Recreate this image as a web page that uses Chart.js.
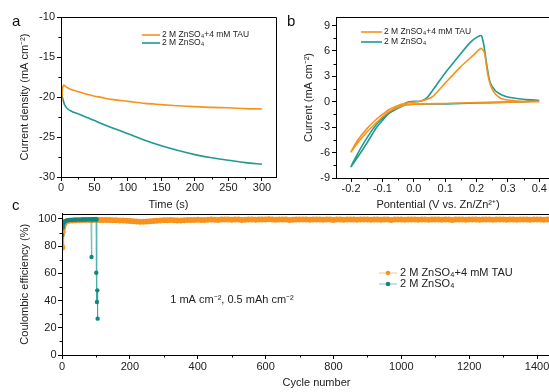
<!DOCTYPE html>
<html>
<head>
<meta charset="utf-8">
<script src="https://cdn.jsdelivr.net/npm/chart.js@4.4.1/dist/chart.umd.min.js"></script>
<style>
html, body { margin: 0; padding: 0; background: #fff; width: 549px; height: 392px; overflow: hidden; position: relative; }
canvas { position: absolute; }
.lab { position: absolute; font: 15px "Liberation Sans", Arial, sans-serif; color: #111; line-height: 1; }
</style>
</head>
<body>
<canvas id="ca" width="290" height="215" style="left:0;top:0"></canvas>
<canvas id="cb" width="300" height="215" style="left:285px;top:0"></canvas>
<canvas id="cc" width="600" height="189" style="left:0;top:203px"></canvas>
<div class="lab" style="left:12px;top:13px">a</div>
<div class="lab" style="left:287px;top:13px">b</div>
<div class="lab" style="left:12px;top:197px">c</div>
<script>
// panel a: chronoamperometry
const timeA = [0, 1, 2, 3, 4, 5, 7, 10, 15, 20, 30, 40, 50, 60, 75, 100, 125, 150, 175, 200, 225, 250, 275, 300];
const tauA  = [-21.2, -20.3, -19.2, -18.7, -18.5, -18.55, -18.7, -18.85, -19.05, -19.2, -19.45, -19.7, -19.9, -20.05, -20.3, -20.55, -20.8, -20.95, -21.1, -21.2, -21.3, -21.35, -21.45, -21.5];
const znA   = [-19.2, -19.6, -20.0, -20.3, -20.6, -20.9, -21.2, -21.5, -21.75, -21.95, -22.25, -22.6, -22.95, -23.3, -23.8, -24.6, -25.4, -26.1, -26.7, -27.2, -27.6, -27.9, -28.2, -28.4];
const xTicksA = [0, 50, 100, 150, 200, 250, 300];
const yTicksA = [-30, -25, -20, -15, -10];

// panel b: CV loops (start 0.4 V, scan down, back up)
const potTau = [0.40, 0.30, 0.20, 0.10, 0.00, -0.03, -0.06, -0.08, -0.10, -0.12, -0.15, -0.18, -0.20, -0.18, -0.15, -0.12, -0.10, -0.08, -0.06, -0.04, -0.02, 0.00, 0.03, 0.06, 0.10, 0.15, 0.19, 0.21, 0.215, 0.225, 0.235, 0.245, 0.26, 0.28, 0.32, 0.36, 0.40];
const curTau = [0.0, -0.05, -0.1, -0.2, -0.3, -0.4, -0.8, -1.2, -1.8, -2.5, -3.6, -4.9, -5.9, -4.6, -3.2, -2.1, -1.5, -0.95, -0.6, -0.3, -0.15, -0.05, 0.15, 0.6, 2.2, 4.15, 5.5, 6.2, 6.3, 5.8, 3.4, 1.9, 0.9, 0.35, 0.12, 0.05, 0.05];
const potZn = [0.40, 0.35, 0.30, 0.20, 0.10, 0.00, -0.03, -0.06, -0.08, -0.10, -0.12, -0.15, -0.18, -0.20, -0.18, -0.15, -0.12, -0.10, -0.08, -0.06, -0.04, -0.02, 0.00, 0.02, 0.04, 0.065, 0.10, 0.15, 0.18, 0.20, 0.215, 0.223, 0.234, 0.244, 0.26, 0.281, 0.307, 0.35, 0.40];
const curZn = [0.15, 0.0, -0.05, -0.15, -0.25, -0.3, -0.4, -0.95, -1.4, -2.2, -3.1, -4.9, -6.6, -7.65, -6.2, -4.3, -2.7, -1.9, -1.25, -0.85, -0.45, -0.05, 0.05, 0.05, 0.4, 1.6, 3.4, 5.7, 7.0, 7.6, 7.8, 6.7, 4.0, 2.2, 1.3, 0.8, 0.5, 0.3, 0.15];
const xTicksB = [-0.2, -0.1, 0.0, 0.1, 0.2, 0.3, 0.4];
const yTicksB = [-9, -6, -3, 0, 3, 6, 9];

// panel c: coulombic efficiency
const cycTau = [1, 2, 3, 4, 5, 7,
  10, 20, 30, 40, 50, 60, 70, 80, 90, 100, 110, 120, 130, 140, 150, 160, 170, 180, 190, 200,
  210, 220, 230, 240, 250, 260, 270, 280, 290, 300, 310, 320, 330, 340, 350, 360, 370, 380, 390, 400,
  410, 420, 430, 440, 450, 460, 470, 480, 490, 500, 510, 520, 530, 540, 550, 560, 570, 580, 590, 600,
  610, 620, 630, 640, 650, 660, 670, 680, 690, 700, 710, 720, 730, 740, 750, 760, 770, 780, 790, 800,
  810, 820, 830, 840, 850, 860, 870, 880, 890, 900, 910, 920, 930, 940, 950, 960, 970, 980, 990, 1000,
  1010, 1020, 1030, 1040, 1050, 1060, 1070, 1080, 1090, 1100, 1110, 1120, 1130, 1140, 1150, 1160, 1170, 1180, 1190, 1200,
  1210, 1220, 1230, 1240, 1250, 1260, 1270, 1280, 1290, 1300, 1310, 1320, 1330, 1340, 1350, 1360, 1370, 1380, 1390, 1400,
  1410, 1420, 1430, 1440, 1450, 1460, 1470, 1480, 1490, 1500];
const ceTau = [79, 90.5, 93.5, 95, 96, 97,
  97.6, 98.6, 98.9, 99.0, 99.1, 99.2, 99.2, 99.3, 99.3, 99.4, 99.3, 99.2, 99.3, 99.3, 99.1, 99.0, 98.9, 98.8, 98.7, 98.5,
  98.3, 98.2, 98.0, 97.9, 98.1, 98.3, 98.5, 98.7, 98.9, 99.0, 99.1, 99.2, 99.0, 98.8, 98.9, 99.1, 99.2, 99.3, 99.3, 99.4,
  99.3, 99.2, 99.4, 99.5, 99.4, 99.3, 99.5, 99.6, 99.5, 99.4, 99.6, 99.5, 99.3, 99.4, 99.6, 99.5, 99.4, 99.5, 99.6, 99.5,
  99.7, 99.6, 99.4, 99.5, 99.6, 99.5, 99.3, 99.4, 99.6, 99.5, 99.5, 99.6, 99.4, 99.5, 99.6, 99.5, 99.4, 99.6, 99.5, 99.3,
  99.5, 99.6, 99.4, 99.5, 99.6, 99.5, 99.4, 99.5, 99.6, 99.5, 99.4, 99.6, 99.5, 99.4, 99.5, 99.6, 99.3, 99.5, 99.6, 99.5,
  99.4, 99.5, 99.6, 99.5, 99.4, 99.6, 99.5, 99.4, 99.5, 99.6, 99.5, 99.4, 99.5, 99.6, 99.3, 99.5, 99.6, 99.5, 99.4, 99.5,
  99.6, 99.5, 99.4, 99.5, 99.6, 99.5, 99.4, 99.6, 99.5, 99.5, 99.4, 99.6, 99.5, 99.4, 99.5, 99.6, 99.5, 99.4, 99.5, 99.6,
  99.5, 99.4, 99.5, 99.6, 99.5, 99.4, 99.5, 99.6, 99.5, 99.5];
const cycZn = [1, 2, 3, 4, 5, 7, 10, 14, 18, 22, 26, 30, 35, 40, 45, 50, 55, 60, 65, 70, 75, 80, 85, 87, 88, 91, 94, 97, 100, 101, 102, 103, 104, 105];
const ceZn  = [88, 93.5, 95.5, 96.8, 97.5, 98.2, 98.6, 98.9, 99.1, 99.2, 99.3, 99.3, 99.4, 99.4, 99.5, 99.5, 99.5, 99.6, 99.6, 99.6, 99.7, 99.7, 99.7, 72, 99.7, 99.8, 99.8, 99.8, 99.8, 60.5, 99.6, 39, 47.5, 26.7];
const xTicksC = [0, 200, 400, 600, 800, 1000, 1200, 1400];
const yTicksC = [0, 20, 40, 60, 80, 100];

const names = ['2 M ZnSO\u2084+4 mM TAU', '2 M ZnSO\u2084'];
const ORANGE = '#f7921e';
const TEAL = '#1f9a93';
const TEAL_DARK = '#12877f';
const FONT = '"Liberation Sans", Arial, sans-serif';

Chart.defaults.font.family = FONT;
Chart.defaults.color = '#222';
Chart.defaults.animation = false;
Chart.defaults.plugins.legend.display = false;
Chart.defaults.plugins.tooltip.enabled = false;

function pts(xs, ys) {
  return xs.map((x, i) => ({ x: x, y: ys[i] }));
}

function minors(scale) {
  const t = scale.ticks.map(k => k.value);
  const step = t[1] - t[0];
  const out = [];
  for (let v = t[0] - step / 2; v <= scale.max + 1e-9; v += step) {
    if (v >= scale.min - 1e-9) out.push(v);
  }
  return out;
}

// box frame, minor ticks, legend and notes
const extras = {
  id: 'extras',
  afterDraw(chart, args, o) {
    const ctx = chart.ctx;
    const a = chart.chartArea;
    const sx = chart.scales.x, sy = chart.scales.y;
    const L = Math.round(a.left) + 0.5, R = Math.round(a.right) + 0.5;
    const T = Math.round(a.top) + 0.5, B = Math.round(a.bottom) + 0.5;
    ctx.save();
    ctx.strokeStyle = '#000';
    ctx.lineWidth = 1;
    ctx.beginPath();
    ctx.moveTo(L, B); ctx.lineTo(L, T); ctx.lineTo(R, T);
    if (!o.openRight) { ctx.lineTo(R, B); ctx.lineTo(L, B); }
    for (const v of minors(sx)) {
      const p = Math.round(sx.getPixelForValue(v)) + 0.5;
      ctx.moveTo(p, a.bottom);
      ctx.lineTo(p, a.bottom + 2.5);
    }
    for (const v of minors(sy)) {
      const p = Math.round(sy.getPixelForValue(v)) + 0.5;
      ctx.moveTo(a.left, p);
      ctx.lineTo(a.left - 2.5, p);
    }
    ctx.stroke();

    const lg = o.legend;
    ctx.font = lg.font + 'px ' + FONT;
    ctx.textBaseline = 'middle';
    lg.items.forEach(it => {
      ctx.strokeStyle = it.line;
      ctx.lineWidth = lg.lw;
      ctx.beginPath();
      ctx.moveTo(lg.x0, it.y);
      ctx.lineTo(lg.x1, it.y);
      ctx.stroke();
      if (it.marker) {
        ctx.fillStyle = it.marker;
        ctx.beginPath();
        ctx.arc((lg.x0 + lg.x1) / 2, it.y, 2.3, 0, Math.PI * 2);
        ctx.fill();
      }
      ctx.fillStyle = '#222';
      ctx.fillText(it.text, lg.tx, it.y);
    });
    (o.notes || []).forEach(n => {
      ctx.font = n.font + 'px ' + FONT;
      ctx.fillStyle = '#222';
      ctx.textAlign = 'center';
      ctx.fillText(n.text, n.x, n.y);
    });
    ctx.restore();
  }
};

function axis(cfg) {
  return {
    type: 'linear',
    position: cfg.pos,
    min: cfg.min,
    max: cfg.max,
    afterFit: s => { if (cfg.pos === 'left') s.width = cfg.size; else s.height = cfg.size; },
    afterBuildTicks: s => { s.ticks = cfg.ticks.map(v => ({ value: v })); },
    border: { display: true, color: '#000', width: 1 },
    grid: { display: true, drawOnChartArea: false, drawTicks: true, tickLength: 4, color: '#000', tickColor: '#000' },
    ticks: {
      padding: cfg.tpad,
      color: '#222',
      font: { size: 11, lineHeight: 1 },
      callback: cfg.fmt || (v => String(v))
    },
    title: {
      display: !!cfg.title,
      text: cfg.title || '',
      color: '#222',
      font: { size: 11, lineHeight: 1.2 },
      padding: cfg.pos === 'left' ? { top: cfg.tt, bottom: 0 } : { top: 0, bottom: cfg.tt }
    }
  };
}

// ---- a ----
new Chart(document.getElementById('ca'), {
  type: 'scatter',
  data: {
    datasets: [
      { data: pts(timeA, tauA), showLine: true, borderColor: ORANGE, borderWidth: 1.6, pointRadius: 0, tension: 0.3 },
      { data: pts(timeA, znA), showLine: true, borderColor: TEAL, borderWidth: 1.6, pointRadius: 0, tension: 0.3 }
    ]
  },
  options: {
    responsive: false,
    devicePixelRatio: 1,
    layout: { padding: { left: 0, top: 17, right: 14, bottom: 0 } },
    scales: {
      x: axis({ pos: 'bottom', min: 0, max: 321, ticks: xTicksA, size: 38, tpad: 1, title: 'Time (s)', tt: 3 }),
      y: axis({ pos: 'left', min: -30, max: -10, ticks: yTicksA, size: 61, tpad: 2, title: 'Current density (mA cm\u207B\u00B2)', tt: 18 })
    },
    plugins: {
      extras: {
        legend: { x0: 142, x1: 160, tx: 162, font: 8.5, lw: 1.6, items: [
          { text: names[0], line: ORANGE, y: 35 },
          { text: names[1], line: TEAL, y: 43 }
        ] }
      }
    }
  },
  plugins: [extras]
});

// ---- b ---- (plot box runs past the right edge of the window)
new Chart(document.getElementById('cb'), {
  type: 'scatter',
  data: {
    datasets: [
      { data: pts(potTau, curTau), showLine: true, borderColor: ORANGE, borderWidth: 1.6, pointRadius: 0, tension: 0.25 },
      { data: pts(potZn, curZn), showLine: true, borderColor: TEAL, borderWidth: 1.6, pointRadius: 0, tension: 0.25 }
    ]
  },
  options: {
    responsive: false,
    devicePixelRatio: 1,
    layout: { padding: { left: 0, top: 17, right: 30, bottom: 0 } },
    scales: {
      x: axis({ pos: 'bottom', min: -0.248, max: 0.45, ticks: xTicksB, size: 37, tpad: 1.5, fmt: v => v.toFixed(1) }),
      y: axis({ pos: 'left', min: -9, max: 10, ticks: yTicksB, size: 51, tpad: 2, title: 'Current (mA cm\u207B\u00B2)', tt: 17 })
    },
    plugins: {
      extras: {
        openRight: true,
        legend: { x0: 76, x1: 97, tx: 99, font: 8.5, lw: 1.6, items: [
          { text: names[0], line: ORANGE, y: 32 },
          { text: names[1], line: TEAL, y: 42 }
        ] },
        notes: [{ text: 'Pontential (V vs. Zn/Zn\u00B2\u207A)', x: 153, y: 205, font: 11 }]
      }
    }
  },
  plugins: [extras]
});

// ---- c ----
new Chart(document.getElementById('cc'), {
  type: 'scatter',
  data: {
    datasets: [
      { data: pts(cycZn, ceZn), order: 0, showLine: true, borderColor: 'rgba(31,154,147,0.55)', borderWidth: 1, pointRadius: 2.2, pointBackgroundColor: TEAL_DARK, pointBorderWidth: 0 },
      { data: pts(cycTau, ceTau), order: 1, showLine: true, borderColor: ORANGE, borderWidth: 3, pointRadius: 3, pointBackgroundColor: ORANGE, pointBorderWidth: 0 }
    ]
  },
  options: {
    responsive: false,
    devicePixelRatio: 1,
    layout: { padding: { left: 0, top: 10.5, right: 29, bottom: 0 } },
    scales: {
      x: axis({ pos: 'bottom', min: 0, max: 1500, ticks: xTicksC, size: 37, tpad: 2, title: 'Cycle number', tt: 2.4 }),
      y: axis({ pos: 'left', min: 0, max: 104, ticks: yTicksC, size: 62, tpad: 1.5, title: 'Coulombic efficiency (%)', tt: 18 })
    },
    plugins: {
      extras: {
        openRight: true,
        legend: { x0: 379, x1: 397, tx: 400, font: 11, lw: 1, items: [
          { text: names[0], line: 'rgba(247,146,30,0.55)', marker: ORANGE, y: 70 },
          { text: names[1], line: 'rgba(31,154,147,0.55)', marker: TEAL_DARK, y: 81 }
        ] },
        notes: [{ text: '1 mA cm\u207B\u00B2, 0.5 mAh cm\u207B\u00B2', x: 232, y: 97, font: 11 }]
      }
    }
  },
  plugins: [extras]
});
</script>
</body>
</html>
